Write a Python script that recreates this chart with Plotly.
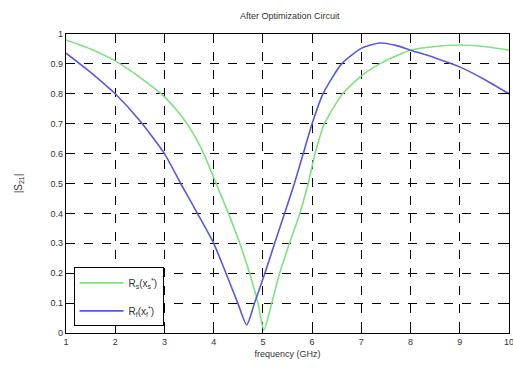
import plotly.graph_objects as go

# |S21| of the optimised circuit, sampled over frequency (GHz)
freq_s = [1.0, 1.5, 2.0, 2.5, 3.0, 3.25, 3.5, 3.77, 4.05, 4.3, 4.53, 4.73, 4.9, 5.02, 5.18, 5.34, 5.54, 5.75, 5.92, 6.06, 6.25, 6.62, 7.0, 7.37, 7.75, 8.0, 8.5, 9.0, 9.5, 10.0]
mag_s = [0.98, 0.95, 0.91, 0.855, 0.79, 0.745, 0.69, 0.61, 0.50, 0.40, 0.30, 0.20, 0.10, 0.01, 0.10, 0.20, 0.30, 0.40, 0.50, 0.60, 0.70, 0.80, 0.86, 0.90, 0.93, 0.946, 0.958, 0.963, 0.958, 0.946]

freq_f = [1.0, 1.5, 2.0, 2.5, 3.0, 3.33, 3.67, 4.0, 4.25, 4.49, 4.67, 4.83, 5.04, 5.24, 5.44, 5.64, 5.82, 6.0, 6.22, 6.6, 7.0, 7.37, 7.7, 8.0, 8.5, 9.0, 9.5, 10.0]
mag_f = [0.936, 0.872, 0.80, 0.71, 0.60, 0.50, 0.40, 0.30, 0.20, 0.10, 0.027, 0.10, 0.20, 0.30, 0.40, 0.50, 0.60, 0.70, 0.80, 0.90, 0.952, 0.97, 0.962, 0.946, 0.92, 0.89, 0.848, 0.80]

x_ticks = [1, 2, 3, 4, 5, 6, 7, 8, 9, 10]
y_ticks = [0, 0.1, 0.2, 0.3, 0.4, 0.5, 0.6, 0.7, 0.8, 0.9, 1]
y_labels = ["0", "0.1", "0.2", "0.3", "0.4", "0.5", "0.6", "0.7", "0.8", "0.9", "1"]

FONT = "Liberation Sans, Arial"

fig = go.Figure()
fig.add_trace(go.Scatter(
    x=freq_s, y=mag_s, mode="lines",
    line=dict(color="#7ee27e", width=1.6, shape="spline", smoothing=0.6),
    legendgroup="s", name="R<sub>s</sub>(x<sub>s</sub><sup>*</sup>)"))
fig.add_trace(go.Scatter(
    x=freq_f, y=mag_f, mode="lines",
    line=dict(color="#5858e0", width=1.6, shape="spline", smoothing=0.6),
    legendgroup="f", name="R<sub>f</sub>(x<sub>f</sub><sup>*</sup>)"))

axis_common = dict(
    showline=True, linecolor="black", linewidth=1.2, mirror="ticks",
    ticks="inside", ticklen=4, tickcolor="black",
    showgrid=True, gridcolor="black", gridwidth=1, griddash="dash",
    zeroline=False, ticklabeloverflow="allow", automargin=False,
    tickfont=dict(family=FONT, size=9, color="#333"),
)

fig.update_layout(
    width=513, height=369,
    margin=dict(l=66, r=4, t=34, b=36),
    paper_bgcolor="white", plot_bgcolor="white",
    title=dict(text="After Optimization Circuit", x=0.565, xanchor="center", y=0.958, yanchor="middle",
               font=dict(family=FONT, size=9, color="#333")),
    xaxis=dict(range=[1, 10], tickvals=x_ticks, ticktext=[str(v) for v in x_ticks],
               title=dict(text="frequency (GHz)", standoff=4, font=dict(family=FONT, size=9, color="#333")),
               **axis_common),
    yaxis=dict(range=[0, 1], tickvals=y_ticks, ticktext=y_labels,
               title=dict(text="|S<sub>21</sub>|", standoff=26, font=dict(family=FONT, size=10, color="#333")),
               **axis_common),
    legend=dict(x=0.017, y=0.022, xanchor="left", yanchor="bottom",
                bgcolor="white", bordercolor="black", borderwidth=1,
                font=dict(family=FONT, size=10, color="#333"),
                tracegroupgap=9, itemwidth=44, entrywidth=92),
    showlegend=True,
)

fig.write_html("out.html")
